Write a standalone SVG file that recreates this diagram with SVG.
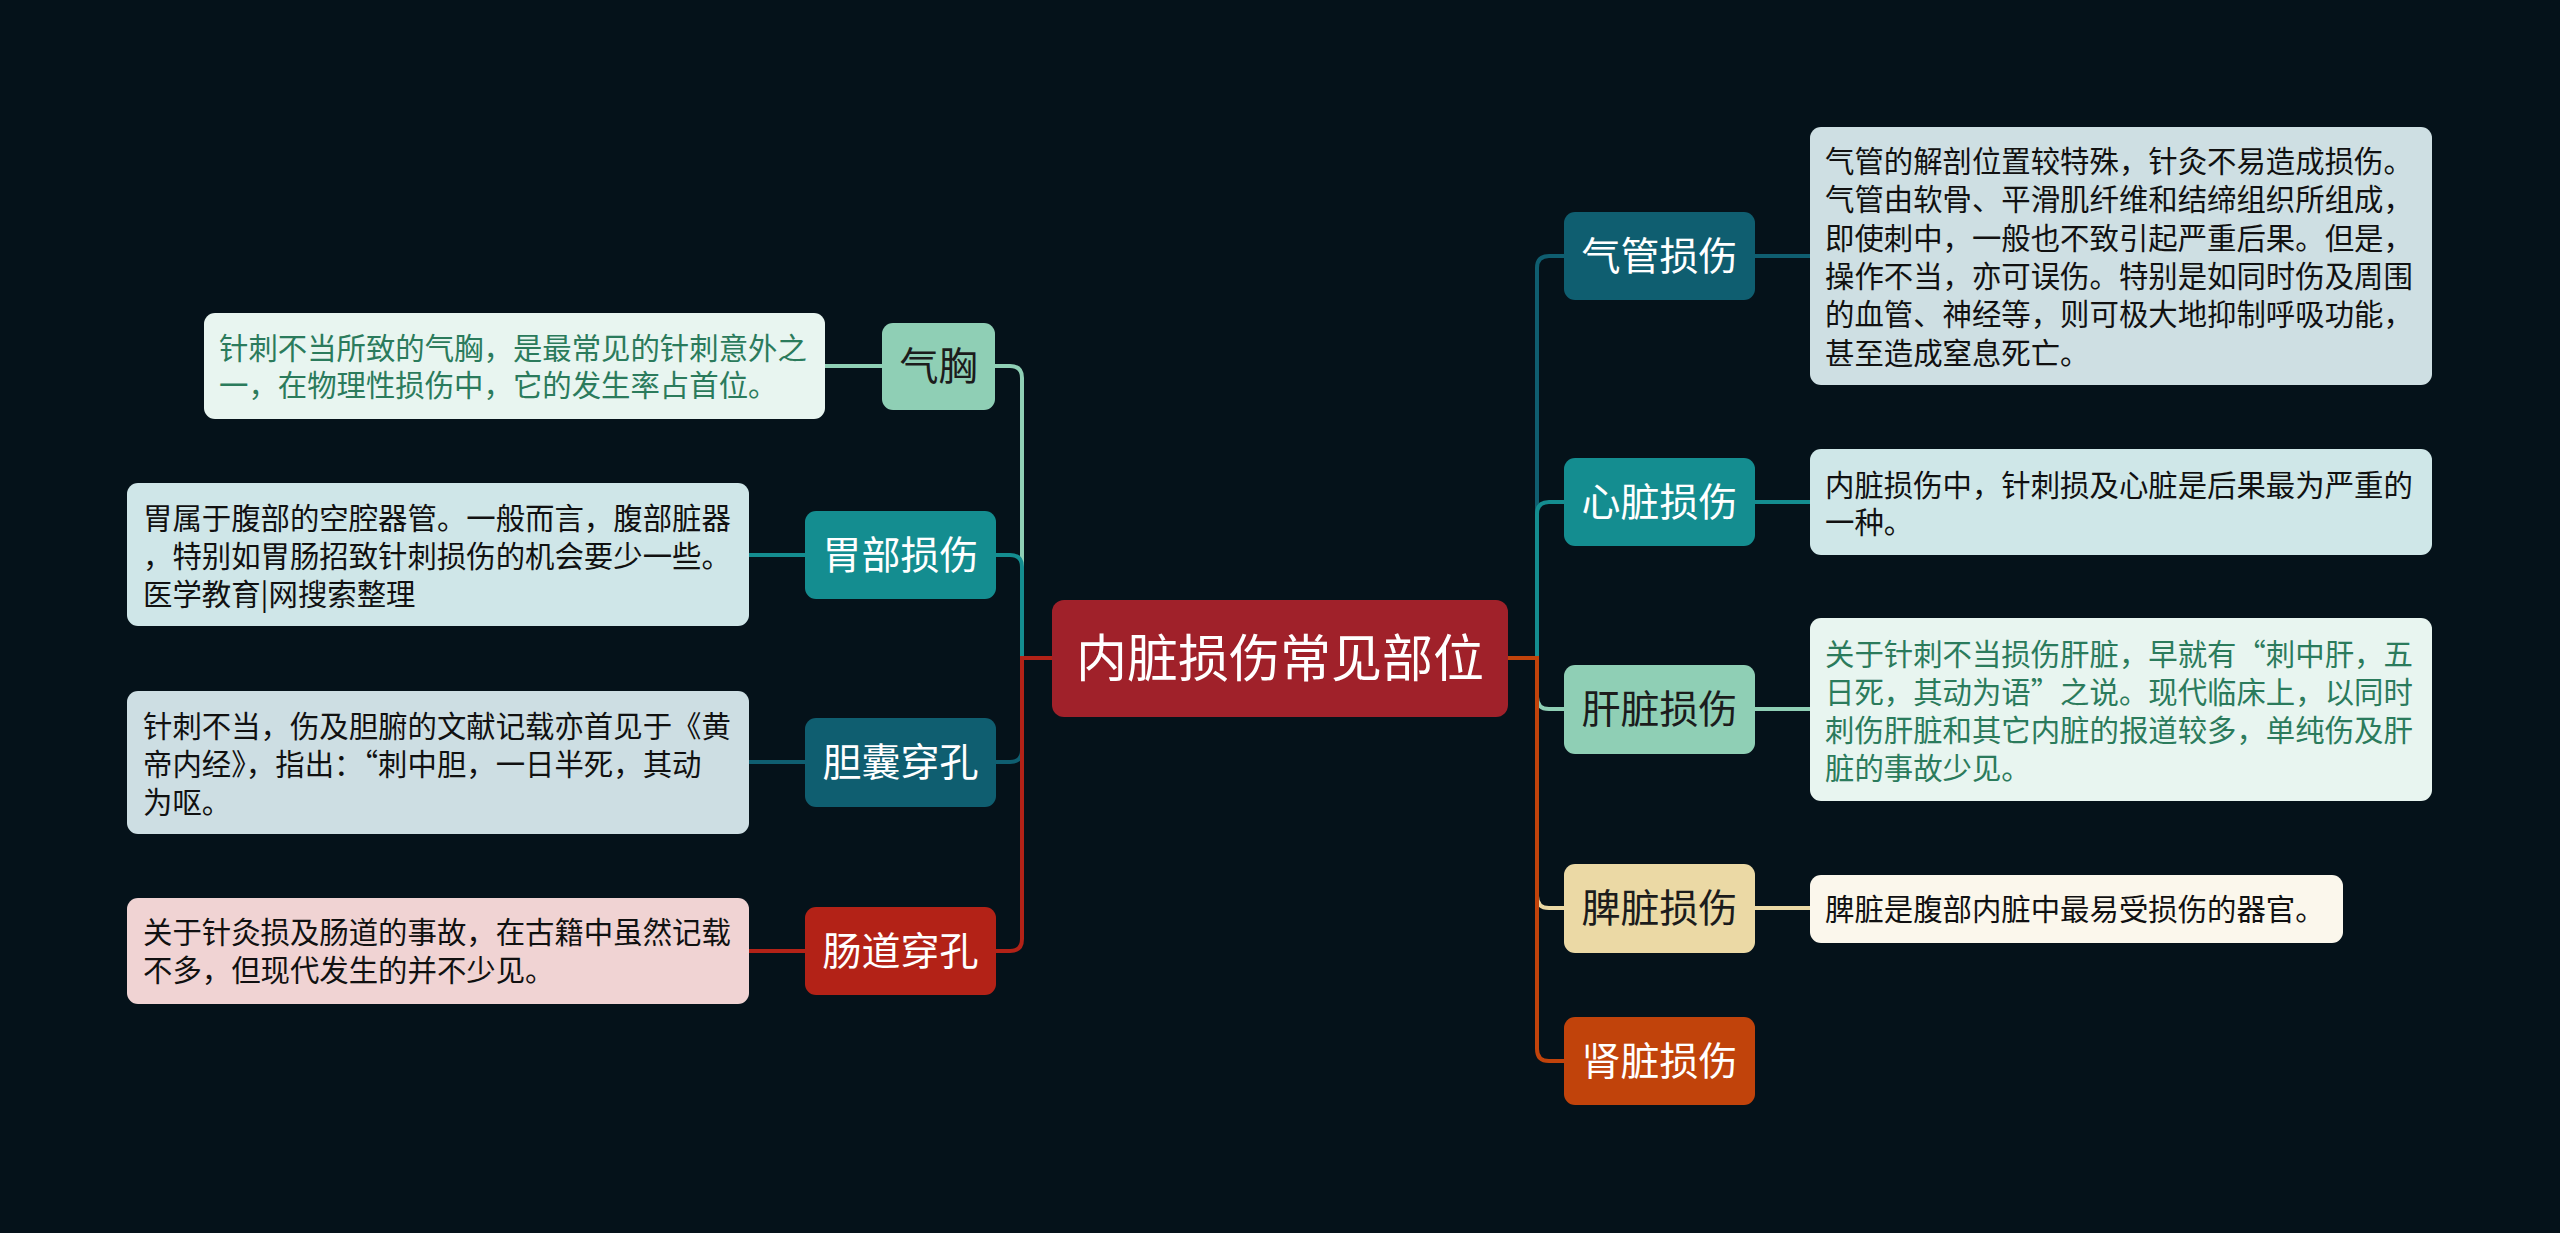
<svg xmlns="http://www.w3.org/2000/svg" width="2560" height="1233" viewBox="0 0 2560 1233">
<style>
text{font-family:"Noto Sans CJK SC","Noto Sans",sans-serif;dominant-baseline:central}
.t{font-size:39px;text-anchor:middle}
.d{font-size:29.4px;fill:#111}
.dg{font-size:29.4px;fill:#2B7B5C}
.w{fill:#fff}
.k{fill:#1c1c1c}
.c path{fill:none;stroke-width:4}
</style>
<rect width="2560" height="1233" fill="#05121A"/>
<g class="c" id="connectors">
<path d="M1052 658 H1022 V378 Q1022 366 1010 366 H995" stroke="#8FCFB5"/>
<path d="M1052 658 H1022 V567 Q1022 555 1010 555 H996" stroke="#148D90"/>
<path d="M1052 658 H1022 V750 Q1022 762 1010 762 H996" stroke="#0F5E70"/>
<path d="M1052 658 H1022 V939 Q1022 951 1010 951 H996" stroke="#B32217"/>
<path d="M1508 658 H1537 V268 Q1537 256 1549 256 H1564" stroke="#0F5E70"/>
<path d="M1508 658 H1537 V514 Q1537 502 1549 502 H1564" stroke="#148D90"/>
<path d="M1508 658 H1537 V697 Q1537 709 1549 709 H1564" stroke="#8FCFB5"/>
<path d="M1508 658 H1537 V896 Q1537 908 1549 908 H1564" stroke="#EBD9A5"/>
<path d="M1508 658 H1537 V1049 Q1537 1061 1549 1061 H1564" stroke="#C1430B"/>
<path d="M825 366 H882" stroke="#8FCFB5"/>
<path d="M749 555 H805" stroke="#148D90"/>
<path d="M749 762 H805" stroke="#0F5E70"/>
<path d="M749 951 H805" stroke="#B32217"/>
<path d="M1755 256 H1810" stroke="#0F5E70"/>
<path d="M1755 502 H1810" stroke="#148D90"/>
<path d="M1755 709 H1810" stroke="#8FCFB5"/>
<path d="M1755 908 H1810" stroke="#EBD9A5"/>
</g>
<g id="center">
<rect x="1052" y="600" width="456" height="117" rx="12" fill="#A0212A"/>
<text x="1280" y="655" font-size="51" text-anchor="middle" fill="#fff">内脏损伤常见部位</text>
</g>
<g id="n-qixiong">
<rect x="882" y="323" width="113" height="87" rx="11" fill="#8FCFB5"/>
<text class="t k" x="938.5" y="363">气胸</text>
</g>
<g id="d-qixiong">
<rect x="204" y="313" width="621" height="106" rx="11" fill="#E8F5F0"/>
<text class="dg" x="219" y="346">针刺不当所致的气胸，是最常见的针刺意外之</text>
<text class="dg" x="219" y="383">一，在物理性损伤中，它的发生率占首位。</text>
</g>
<g id="n-weibu">
<rect x="805" y="511" width="191" height="88" rx="11" fill="#148D90"/>
<text class="t w" x="900.5" y="552">胃部损伤</text>
</g>
<g id="d-weibu">
<rect x="127" y="483" width="622" height="143" rx="11" fill="#CFE6E8"/>
<text class="d" x="143" y="516">胃属于腹部的空腔器管。一般而言，腹部脏器</text>
<text class="d" x="143" y="554">，特别如胃肠招致针刺损伤的机会要少一些。</text>
<text class="d" x="143" y="592">医学教育|网搜索整理</text>
</g>
<g id="n-dannang">
<rect x="805" y="718" width="191" height="89" rx="11" fill="#0F5E70"/>
<text class="t w" x="900.5" y="759">胆囊穿孔</text>
</g>
<g id="d-dannang">
<rect x="127" y="691" width="622" height="143" rx="11" fill="#CDDEE3"/>
<text class="d" x="143" y="724">针刺不当，伤及胆腑的文献记载亦首见于《黄</text>
<text class="d" x="143" y="762">帝内经》，指出：“刺中胆，一日半死，其动</text>
<text class="d" x="143" y="800">为呕。</text>
</g>
<g id="n-changdao">
<rect x="805" y="907" width="191" height="88" rx="11" fill="#B32217"/>
<text class="t w" x="900.5" y="948">肠道穿孔</text>
</g>
<g id="d-changdao">
<rect x="127" y="898" width="622" height="106" rx="11" fill="#F0D3D3"/>
<text class="d" x="143" y="930">关于针灸损及肠道的事故，在古籍中虽然记载</text>
<text class="d" x="143" y="968">不多，但现代发生的并不少见。</text>
</g>
<g id="n-qiguan">
<rect x="1564" y="212" width="191" height="88" rx="11" fill="#0F5E70"/>
<text class="t w" x="1659.5" y="253">气管损伤</text>
</g>
<g id="d-qiguan">
<rect x="1810" y="127" width="622" height="258" rx="11" fill="#CEDFE3"/>
<text class="d" x="1825" y="159">气管的解剖位置较特殊，针灸不易造成损伤。</text>
<text class="d" x="1825" y="197">气管由软骨、平滑肌纤维和结缔组织所组成，</text>
<text class="d" x="1825" y="236">即使刺中，一般也不致引起严重后果。但是，</text>
<text class="d" x="1825" y="274">操作不当，亦可误伤。特别是如同时伤及周围</text>
<text class="d" x="1825" y="312">的血管、神经等，则可极大地抑制呼吸功能，</text>
<text class="d" x="1825" y="351">甚至造成窒息死亡。</text>
</g>
<g id="n-xinzang">
<rect x="1564" y="458" width="191" height="88" rx="11" fill="#148D90"/>
<text class="t w" x="1659.5" y="499">心脏损伤</text>
</g>
<g id="d-xinzang">
<rect x="1810" y="449" width="622" height="106" rx="11" fill="#CFE7E8"/>
<text class="d" x="1825" y="483">内脏损伤中，针刺损及心脏是后果最为严重的</text>
<text class="d" x="1825" y="520">一种。</text>
</g>
<g id="n-ganzang">
<rect x="1564" y="665" width="191" height="89" rx="11" fill="#8FCFB5"/>
<text class="t k" x="1659.5" y="706">肝脏损伤</text>
</g>
<g id="d-ganzang">
<rect x="1810" y="618" width="622" height="183" rx="11" fill="#E8F5F0"/>
<text class="dg" x="1825" y="652">关于针刺不当损伤肝脏，早就有“刺中肝，五</text>
<text class="dg" x="1825" y="690">日死，其动为语”之说。现代临床上，以同时</text>
<text class="dg" x="1825" y="728">刺伤肝脏和其它内脏的报道较多，单纯伤及肝</text>
<text class="dg" x="1825" y="766">脏的事故少见。</text>
</g>
<g id="n-pizang">
<rect x="1564" y="864" width="191" height="89" rx="11" fill="#EBD9A5"/>
<text class="t k" x="1659.5" y="905">脾脏损伤</text>
</g>
<g id="d-pizang">
<rect x="1810" y="875" width="533" height="68" rx="11" fill="#FBF7EC"/>
<text class="d" x="1825" y="907">脾脏是腹部内脏中最易受损伤的器官。</text>
</g>
<g id="n-shenzang">
<rect x="1564" y="1017" width="191" height="88" rx="11" fill="#C1430B"/>
<text class="t w" x="1659.5" y="1058">肾脏损伤</text>
</g>
</svg>
